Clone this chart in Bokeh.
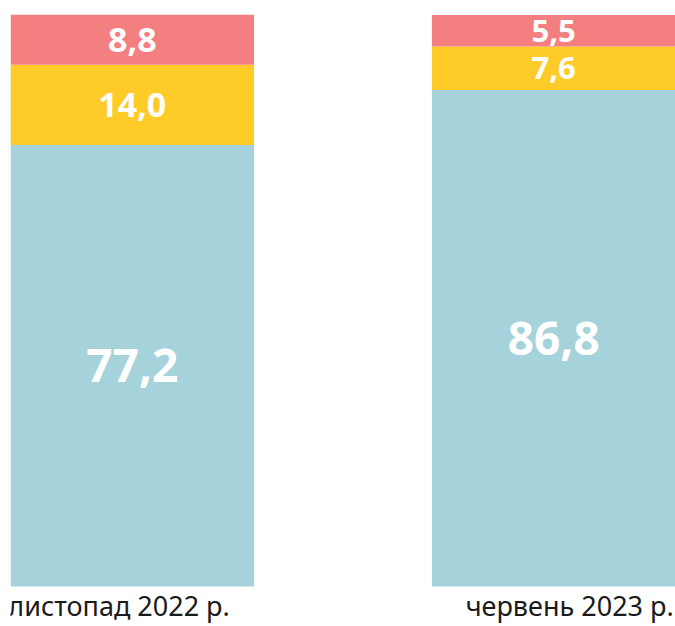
from bokeh.plotting import figure
from bokeh.models import FactorRange, Range1d, ColumnDataSource
from bokeh.core.properties import value
from bokeh.embed import file_html
from bokeh.resources import INLINE

periods = ["листопад 2022 р.", "червень 2023 р."]
blue_vals = [77.2, 86.8]
yellow_vals = [14.0, 7.6]
red_vals = [8.8, 5.5]

colors = {"blue": "#A6D3DB", "yellow": "#FFCB29", "red": "#F37F80"}

p = figure(width=675, height=626, output_backend="svg", toolbar_location=None,
           x_range=FactorRange(factors=periods, factor_padding=0.73, range_padding=0),
           y_range=Range1d(-7, 100),
           x_axis_location=None, y_axis_location=None,
           min_border_left=10, min_border_right=0, min_border_top=14, min_border_bottom=0)
p.grid.visible = False
p.outline_line_color = None
p.background_fill_color = "white"
p.border_fill_color = "white"

src = ColumnDataSource(dict(period=periods, blue=blue_vals, yellow=yellow_vals, red=red_vals))
p.vbar_stack(["blue", "yellow", "red"], x="period", width=1.0, source=src,
             color=[colors["blue"], colors["yellow"], colors["red"]], line_color=None)

# value labels at segment midpoints
lx, ly, lt, ls = [], [], [], []
for i, per in enumerate(periods):
    b, y, r = blue_vals[i], yellow_vals[i], red_vals[i]
    small = "34px" if i == 0 else "31px"
    for mid, v, size in [(b / 2, b, "46px"), (b + y / 2, y, small), (b + y + r / 2, r, small)]:
        lx.append(per)
        ly.append(mid)
        lt.append(f"{v:.1f}".replace(".", ","))
        ls.append(size)
lsrc = ColumnDataSource(dict(x=lx, y=ly, t=lt, s=ls))
p.text(x="x", y="y", text="t", source=lsrc, text_font=value("Noto Sans"),
       text_font_style="bold", text_color="white", text_font_size="s",
       text_align="center", text_baseline="middle")

# category labels below bars
p.text(x=[periods[0]], y=[0], text=[periods[0]], text_font=value("Noto Sans"),
       text_font_size="27px", text_color="#1a1a1a", text_align="left",
       text_baseline="middle", x_offset=-124, y_offset=19)
p.text(x=[periods[1]], y=[0], text=[periods[1]], text_font=value("Noto Sans"),
       text_font_size="27px", text_color="#1a1a1a", text_align="right",
       text_baseline="middle", x_offset=120, y_offset=19)

open("out.html", "w").write(file_html(p, INLINE))
